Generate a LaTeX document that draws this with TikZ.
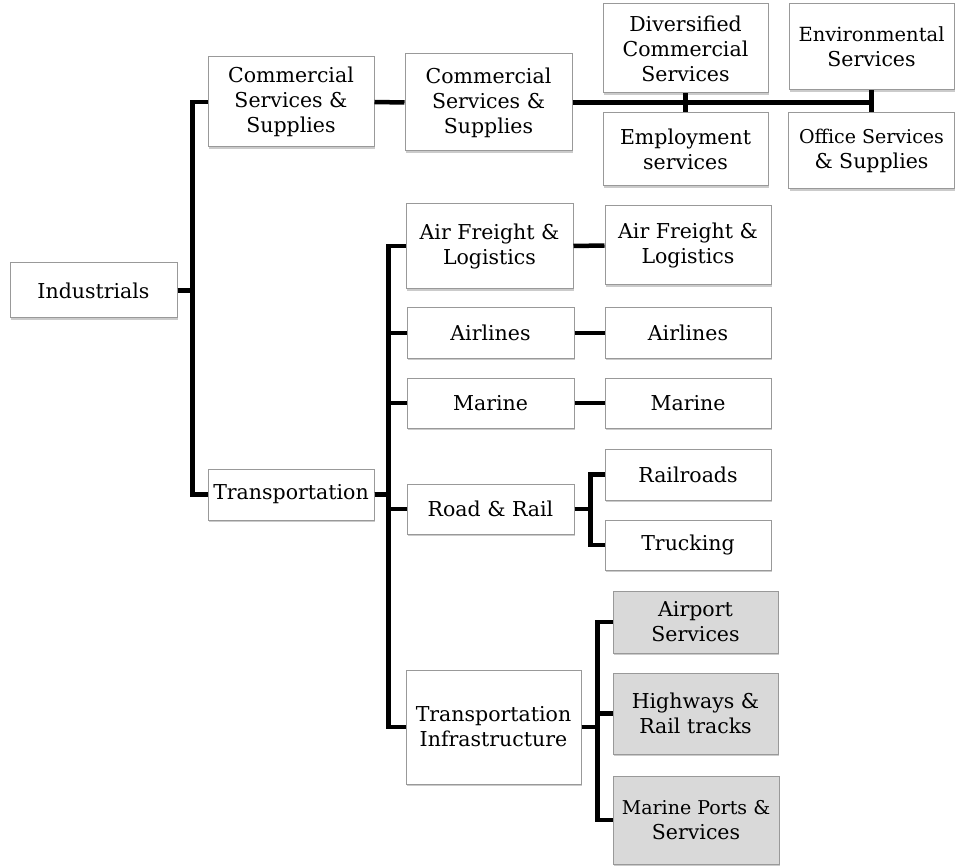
\documentclass[tikz,border=0pt]{standalone}
\usepackage{fontspec}
\setmainfont{DejaVu Serif}
\usetikzlibrary{shadows}
\begin{document}
\begin{tikzpicture}[x=1pt,y=-1pt,
  box/.style={draw=black!40, line width=1pt, fill=white, align=center, inner sep=0pt,
    font=\fontsize{20.5}{25}\selectfont,
    drop shadow={shadow xshift=1.2pt, shadow yshift=-2.2pt, fill=black!45, opacity=.45}},
  gbox/.style={box, fill=black!15},
  conn/.style={line width=4.5pt, black, line join=miter}]
\useasboundingbox (0,0) rectangle (955,866);
\node[box, minimum width=167pt, minimum height=55pt] (ind) at (93.5,290.5) {Industrials};
\node[box, minimum width=166pt, minimum height=90pt] (css2) at (291,102) {Commercial\\Services \&\\Supplies};
\node[box, minimum width=167pt, minimum height=97pt] (css3) at (488.5,102.5) {Commercial\\Services \&\\Supplies};
\node[box, minimum width=165pt, minimum height=89pt] (div) at (685.5,48.5) {Diversified\\Commercial\\Services};
\node[box, minimum width=165pt, minimum height=73pt] (emp) at (685.5,149.5) {Employment\\services};
\node[box, minimum width=165pt, minimum height=86pt] (env) at (871.5,47) {\fontsize{19.5}{24}\selectfont Environmental\\Services};
\node[box, minimum width=166pt, minimum height=76pt] (off) at (871.5,151) {\fontsize{19}{24}\selectfont Office Services\\\& Supplies};
\node[box, minimum width=166pt, minimum height=51pt] (trans) at (291,494.5) {Transportation};
\node[box, minimum width=167pt, minimum height=85pt] (af2) at (489.5,246) {Air Freight \&\\Logistics};
\node[box, minimum width=166pt, minimum height=79pt] (af3) at (688,245.5) {Air Freight \&\\Logistics};
\node[box, minimum width=167pt, minimum height=50pt] (air2) at (490.5,333) {Airlines};
\node[box, minimum width=166pt, minimum height=50pt] (air3) at (688,333) {Airlines};
\node[box, minimum width=167pt, minimum height=50pt] (mar2) at (490.5,403) {Marine};
\node[box, minimum width=166pt, minimum height=50pt] (mar3) at (688,403) {Marine};
\node[box, minimum width=167pt, minimum height=50pt] (rr) at (490.5,509) {Road \& Rail};
\node[box, minimum width=166pt, minimum height=51pt] (rails) at (688,474.5) {Railroads};
\node[box, minimum width=166pt, minimum height=50pt] (truck) at (688,545) {Trucking};
\node[box, minimum width=175pt, minimum height=114pt] (ti) at (493.5,727) {Transportation\\Infrastructure};
\node[gbox, minimum width=165pt, minimum height=62pt] (aps) at (695.5,622) {Airport\\Services};
\node[gbox, minimum width=165pt, minimum height=81pt] (hwy) at (695.5,713.5) {Highways \&\\Rail tracks};
\node[gbox, minimum width=166pt, minimum height=88pt] (mps) at (696,820) {\fontsize{19}{24}\selectfont Marine Ports \&\\Services};
% connectors
\draw[conn] (ind.east) -- ++(15,0) |- (css2.west);
\draw[conn] (ind.east) -- ++(15,0) |- (trans.west);
\draw[conn] (css2.east) -- (css3.west);
\draw[conn] (css3.east) -- (css3.east -| env.south);
\draw[conn] (div.south) -- (emp.north);
\draw[conn] (env.south) -- (off.north);
\draw[conn] (trans.east) -- ++(14,0) |- (af2.west);
\draw[conn] (trans.east) -- ++(14,0) |- (air2.west);
\draw[conn] (trans.east) -- ++(14,0) |- (mar2.west);
\draw[conn] (trans.east) -- ++(14,0) |- (rr.west);
\draw[conn] (trans.east) -- ++(14,0) |- (ti.west);
\draw[conn] (af2.east) -- (af3.west);
\draw[conn] (air2.east) -- (air3.west);
\draw[conn] (mar2.east) -- (mar3.west);
\draw[conn] (rr.east) -- ++(16,0) |- (rails.west);
\draw[conn] (rr.east) -- ++(16,0) |- (truck.west);
\draw[conn] (ti.east) -- ++(16,0) |- (aps.west);
\draw[conn] (ti.east) -- ++(16,0) |- (hwy.west);
\draw[conn] (ti.east) -- ++(16,0) |- (mps.west);
\end{tikzpicture}
\end{document}
